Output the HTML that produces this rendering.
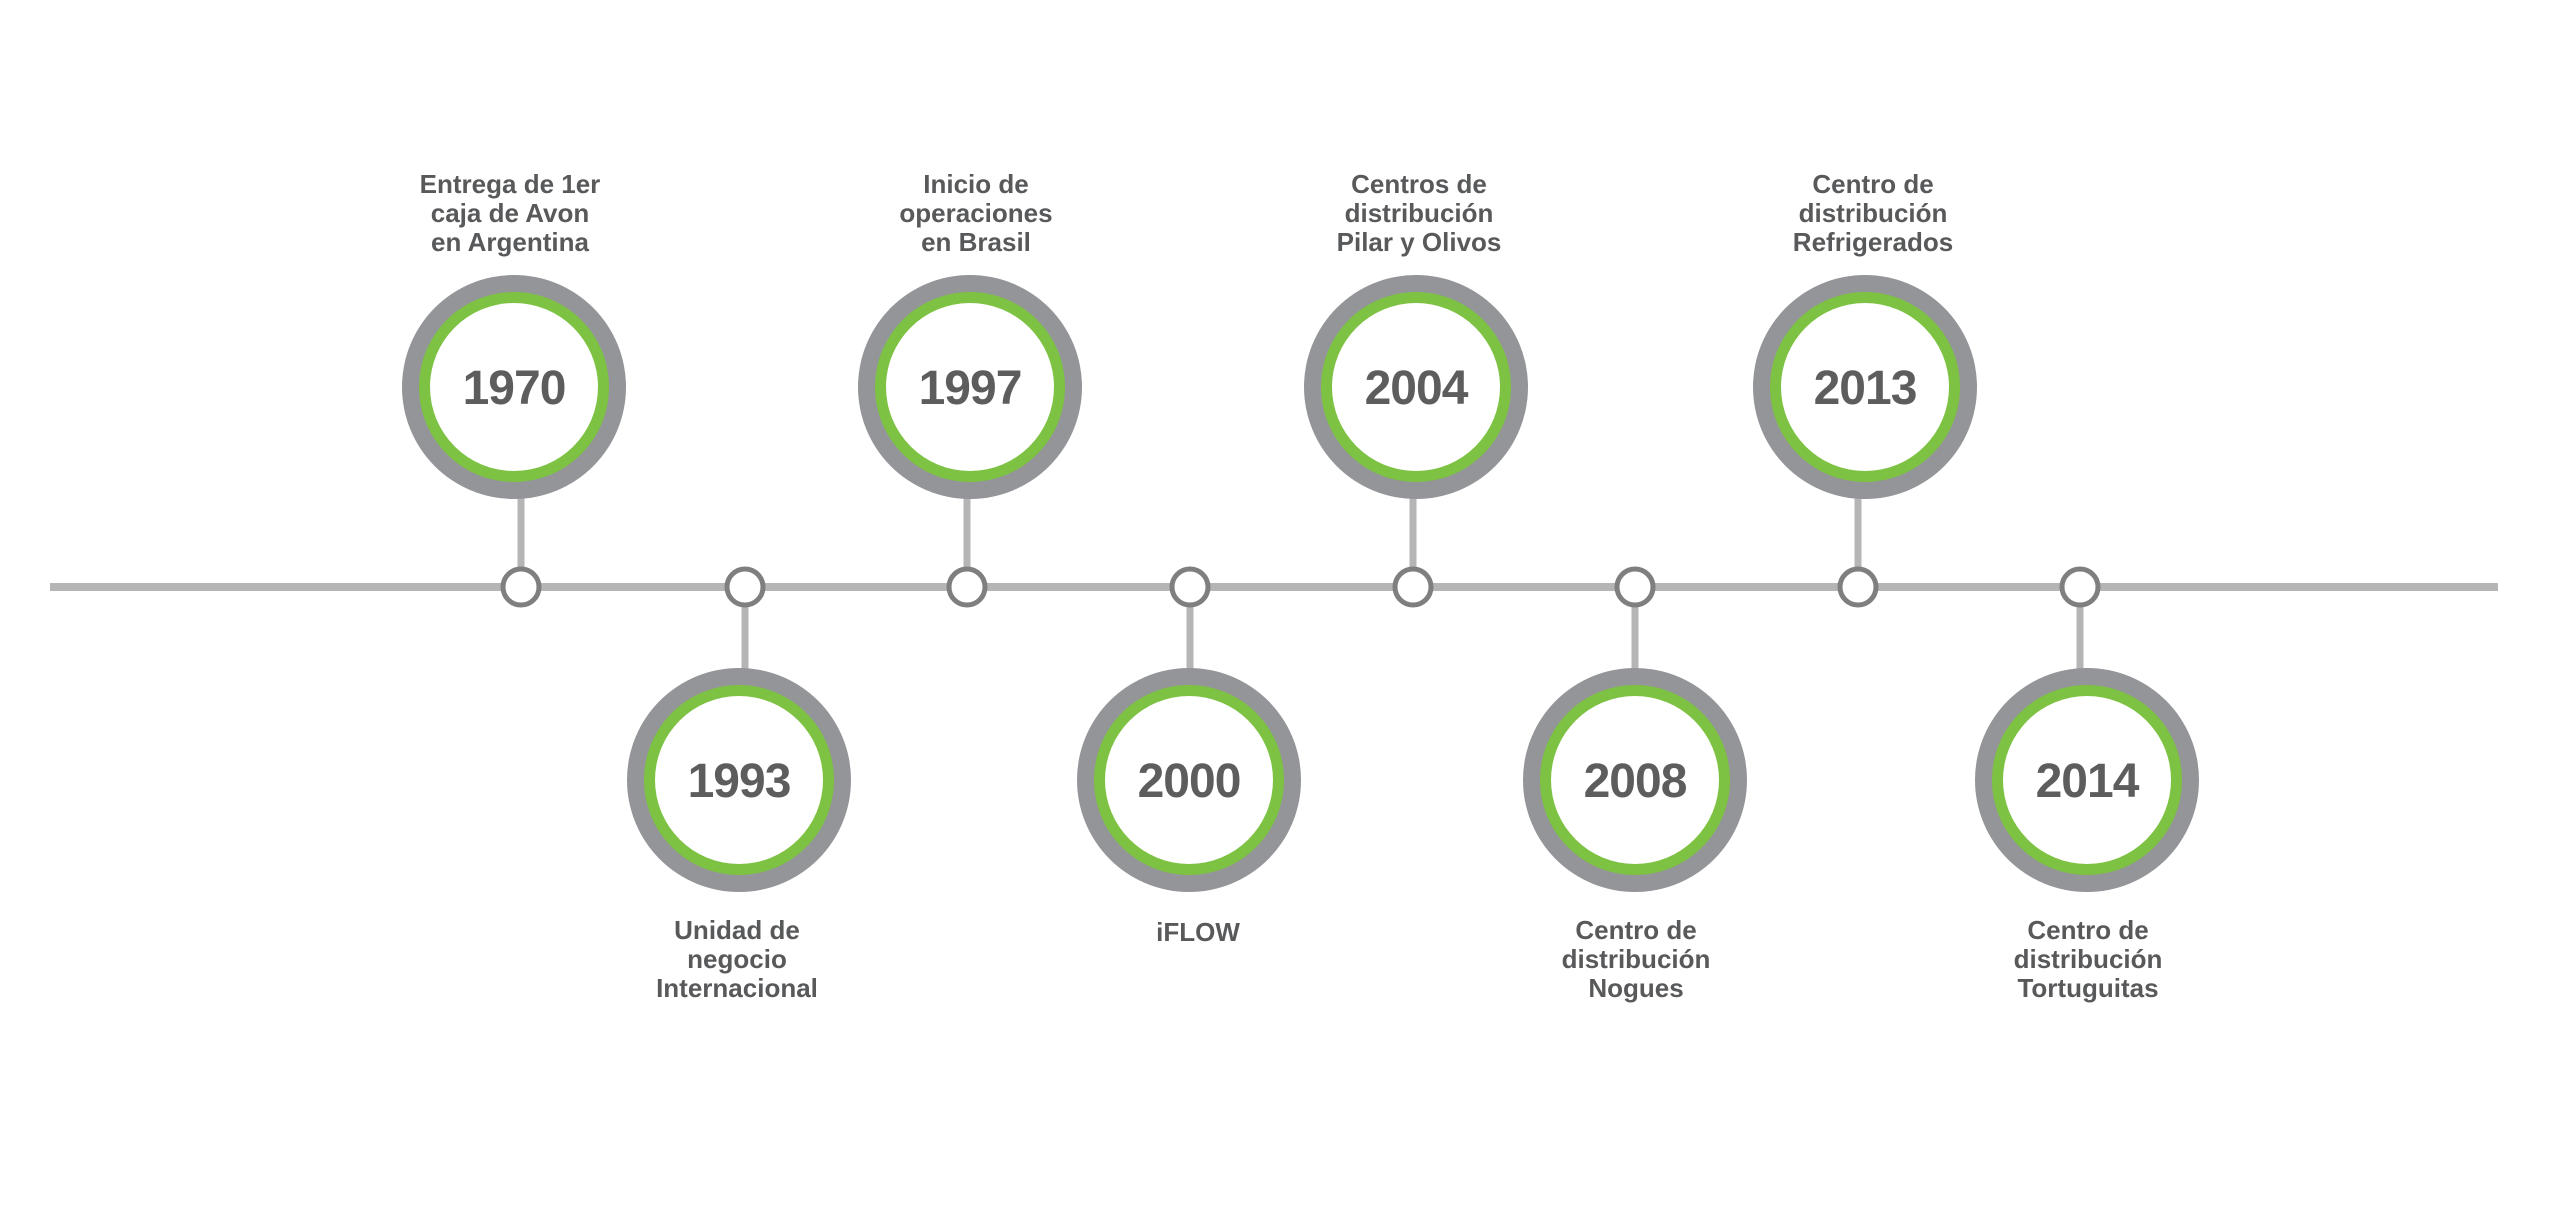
<!DOCTYPE html>
<html><head><meta charset="utf-8"><style>
html,body{margin:0;padding:0;background:#fff;}
svg{display:block;}
text{font-family:"Liberation Sans",sans-serif;font-weight:bold;fill:#58595b;text-anchor:middle;}
.y{font-size:48px;fill:#5d5d5e;letter-spacing:-1px;}
.l{font-size:26px;}
</style></head><body>
<svg width="2560" height="1220" viewBox="0 0 2560 1220" xmlns="http://www.w3.org/2000/svg">
<line x1="50" y1="587" x2="2498" y2="587" stroke="#b5b5b5" stroke-width="8"/>
<g stroke="#b5b5b5" stroke-width="7">
<line x1="521" y1="490" x2="521" y2="587"/>
<line x1="967" y1="490" x2="967" y2="587"/>
<line x1="1413" y1="490" x2="1413" y2="587"/>
<line x1="1858" y1="490" x2="1858" y2="587"/>
<line x1="745" y1="587" x2="745" y2="672"/>
<line x1="1190" y1="587" x2="1190" y2="672"/>
<line x1="1635" y1="587" x2="1635" y2="672"/>
<line x1="2080" y1="587" x2="2080" y2="672"/>
</g>
<g fill="#fff" stroke="#7f7f7f" stroke-width="5">
<circle cx="521" cy="587" r="18"/><circle cx="745" cy="587" r="18"/>
<circle cx="967" cy="587" r="18"/><circle cx="1190" cy="587" r="18"/>
<circle cx="1413" cy="587" r="18"/><circle cx="1635" cy="587" r="18"/>
<circle cx="1858" cy="587" r="18"/><circle cx="2080" cy="587" r="18"/>
</g>
<defs>
<g id="c"><circle r="112" fill="#939598"/><circle r="95" fill="#7dc242"/><circle r="84" fill="#fff"/></g>
</defs>
<use href="#c" x="514" y="387"/><use href="#c" x="970" y="387"/>
<use href="#c" x="1416" y="387"/><use href="#c" x="1865" y="387"/>
<use href="#c" x="739" y="780"/><use href="#c" x="1189" y="780"/>
<use href="#c" x="1635" y="780"/><use href="#c" x="2087" y="780"/>
<text class="y" x="514" y="404">1970</text>
<text class="y" x="970" y="404">1997</text>
<text class="y" x="1416" y="404">2004</text>
<text class="y" x="1865" y="404">2013</text>
<text class="y" x="739" y="797">1993</text>
<text class="y" x="1189" y="797">2000</text>
<text class="y" x="1635" y="797">2008</text>
<text class="y" x="2087" y="797">2014</text>
<g class="l">
<text class="l" x="510" y="193">Entrega de 1er</text>
<text class="l" x="510" y="222">caja de Avon</text>
<text class="l" x="510" y="251">en Argentina</text>
<text class="l" x="976" y="193">Inicio de</text>
<text class="l" x="976" y="222">operaciones</text>
<text class="l" x="976" y="251">en Brasil</text>
<text class="l" x="1419" y="193">Centros de</text>
<text class="l" x="1419" y="222">distribución</text>
<text class="l" x="1419" y="251">Pilar y Olivos</text>
<text class="l" x="1873" y="193">Centro de</text>
<text class="l" x="1873" y="222">distribución</text>
<text class="l" x="1873" y="251">Refrigerados</text>
<text class="l" x="737" y="939">Unidad de</text>
<text class="l" x="737" y="968">negocio</text>
<text class="l" x="737" y="997">Internacional</text>
<text class="l" x="1198" y="941">iFLOW</text>
<text class="l" x="1636" y="939">Centro de</text>
<text class="l" x="1636" y="968">distribución</text>
<text class="l" x="1636" y="997">Nogues</text>
<text class="l" x="2088" y="939">Centro de</text>
<text class="l" x="2088" y="968">distribución</text>
<text class="l" x="2088" y="997">Tortuguitas</text>
</g>
</svg>
</body></html>
